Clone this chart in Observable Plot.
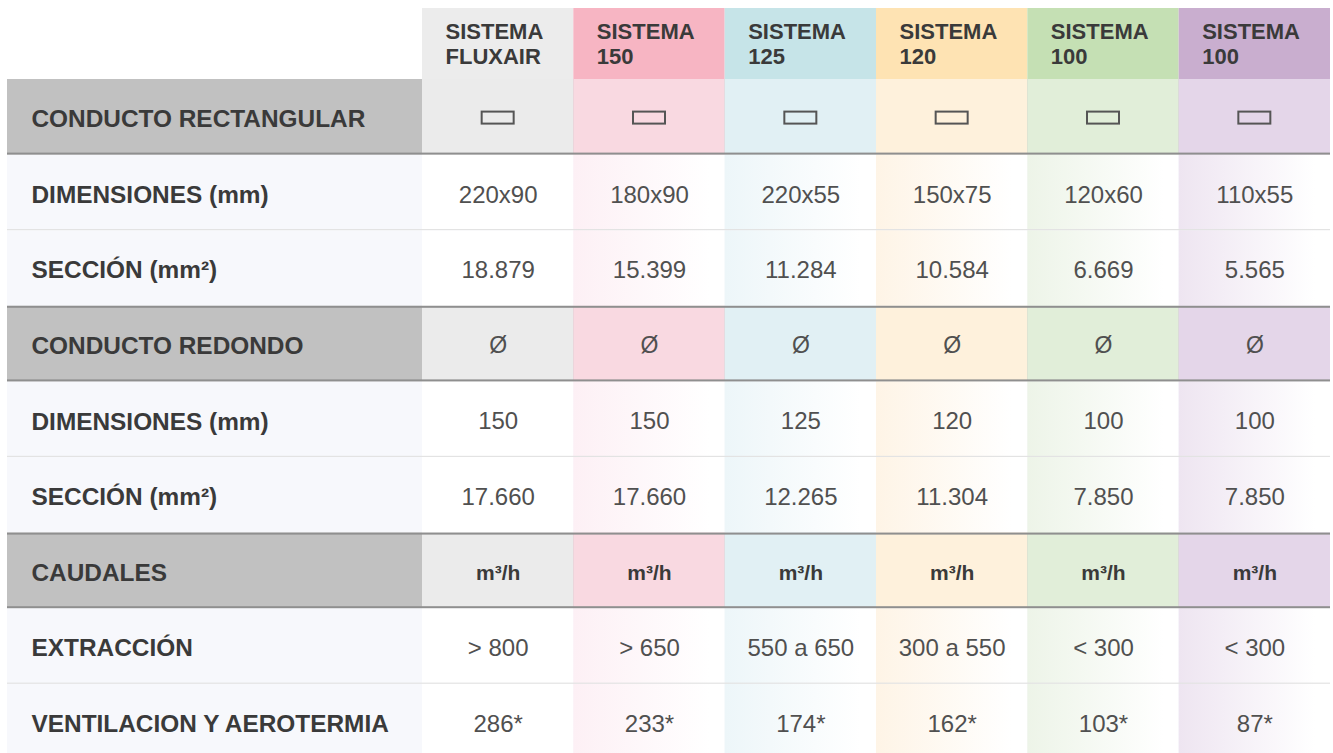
<!DOCTYPE html>
<html><head><meta charset="utf-8">
<script src="https://cdn.jsdelivr.net/npm/d3@7"></script>
<script src="https://cdn.jsdelivr.net/npm/@observablehq/plot@0.6"></script>
<style>html,body{margin:0;padding:0;background:#fff;overflow:hidden}</style>
</head><body><div id="chart"></div>
<script>
// ---- data ----
const columns = ["fluxair", "s150", "s125", "s120", "s100a", "s100b"];
const headerLabels = ["SISTEMA\nFLUXAIR", "SISTEMA\n150", "SISTEMA\n125", "SISTEMA\n120", "SISTEMA\n100", "SISTEMA\n100"];
const headerColors = ["#ececec", "#f7b5c3", "#c6e4e8", "#fee3b3", "#c5e0b4", "#c9aecf"];
const sectionColors = ["#ebebeb", "#f9d9e1", "#e1f0f4", "#fef1dc", "#e1eed9", "#e4d6e9"];
const dataTints = ["#ffffff", "#fdf0f5", "#edf6f9", "#fef4e6", "#edf4e8", "#eee5f1"];

const rows = ["header", "rectHead", "rectDim", "rectSec", "roundHead", "roundDim", "roundSec", "flowHead", "extr", "vent"];
const rowLabels = ["", "CONDUCTO RECTANGULAR", "DIMENSIONES (mm)", "SECCIÓN (mm²)", "CONDUCTO REDONDO", "DIMENSIONES (mm)", "SECCIÓN (mm²)", "CAUDALES", "EXTRACCIÓN", "VENTILACION Y AEROTERMIA"];
const sectionRows = ["rectHead", "roundHead", "flowHead"];
const dataRows = ["rectDim", "rectSec", "roundDim", "roundSec", "extr", "vent"];

const rectDim = ["220x90", "180x90", "220x55", "150x75", "120x60", "110x55"];
const rectSec = ["18.879", "15.399", "11.284", "10.584", "6.669", "5.565"];
const roundSymbol = ["Ø", "Ø", "Ø", "Ø", "Ø", "Ø"];
const roundDim = ["150", "150", "125", "120", "100", "100"];
const roundSec = ["17.660", "17.660", "12.265", "11.304", "7.850", "7.850"];
const flowUnits = ["m³/h", "m³/h", "m³/h", "m³/h", "m³/h", "m³/h"];
const extraction = ["> 800", "> 650", "550 a 650", "300 a 550", "< 300", "< 300"];
const ventilation = ["286*", "233*", "174*", "162*", "103*", "87*"];

const valueRows = {rectDim, rectSec, roundDim, roundSec, extr: extraction, vent: ventilation};

// ---- tables built from data ----
const bodyRows = rows.slice(1);
const labelTable = bodyRows.map(r => ({row: r, label: rowLabels[rows.indexOf(r)], section: sectionRows.includes(r)}));
const cellTable = [];
bodyRows.forEach(r => columns.forEach((c, i) => {
  const section = sectionRows.includes(r);
  cellTable.push({row: r, col: c, fill: section ? sectionColors[i] : (i === 0 ? "#ffffff" : `url(#grad${i})`)});
}));
const headerTable = columns.map((c, i) => ({col: c, label: headerLabels[i], fill: headerColors[i]}));
const valueTable = [];
Object.entries(valueRows).forEach(([r, vals]) => vals.forEach((v, i) => valueTable.push({row: r, col: columns[i], value: v})));
const roundTable = columns.map((c, i) => ({row: "roundHead", col: c, value: roundSymbol[i]}));
const flowTable = columns.map((c, i) => ({row: "flowHead", col: c, value: flowUnits[i]}));

const step = 75.6;
const colStep = (1330 - 422) / columns.length;

const chart = Plot.plot({
  width: 1333, height: 753,
  marginLeft: 7, marginRight: 3, marginTop: 0, marginBottom: 0,
  style: "font-family: 'Liberation Sans', Arial, sans-serif; background: #fff;",
  x: {type: "band", domain: columns, range: [422, 1330], padding: 0, round: false, axis: null},
  y: {type: "band", domain: rows, range: [3.4, 3.4 + step * rows.length], padding: 0, round: false, axis: null},
  color: {type: "identity"},
  marks: [
    // label column backgrounds
    Plot.cell(labelTable, {y: "row", fill: d => d.section ? "#c1c1c1" : "#f7f8fc"}),
    // header cells
    Plot.cell(headerTable, {x: "col", y: () => "header", fill: "fill", insetTop: 4.6}),
    // body cells
    Plot.cell(cellTable, {x: "col", y: "row", fill: "fill"}),
    // light separators
    Plot.cell(["rectDim", "roundDim", "extr"], {y: d => d, fill: "#e3e3e3", insetTop: step - 1.2}),
    // dark borders of section rows
    Plot.cell(sectionRows, {y: d => d, fill: "#8f8f8f", insetTop: step - 2}),
    Plot.cell(["roundHead", "flowHead"], {y: d => d, fill: "#8f8f8f", insetBottom: step - 2}),
    // row labels
    Plot.text(labelTable, {y: "row", text: "label", frameAnchor: "left", dx: 24, dy: 2, textAnchor: "start",
      fontSize: 24.4, fontWeight: "bold", fill: "#3a3a3a"}),
    // header labels
    Plot.text(headerTable, {x: "col", y: () => "header", text: "label", textAnchor: "start", dx: -colStep / 2 + 23, dy: 2,
      lineHeight: 1.136, fontSize: 22, fontWeight: "bold", fill: "#3a3a3a"}),
    // rectangle icons
    Plot.cell(columns, {x: d => d, y: () => "rectHead", fill: "none", stroke: "#555", strokeWidth: 2,
      insetLeft: (colStep - 32) / 2, insetRight: (colStep - 32) / 2, insetTop: (step - 12) / 2 + 0.8, insetBottom: (step - 12) / 2 - 0.8}),
    // round symbol
    Plot.text(roundTable, {x: "col", y: "row", text: "value", dy: 2, fontSize: 23, fill: "#505050"}),
    // flow units
    Plot.text(flowTable, {x: "col", y: "row", text: "value", dy: 2, fontSize: 21, fontWeight: "bold", fill: "#3a3a3a"}),
    // values
    Plot.text(valueTable, {x: "col", y: "row", text: "value", dy: 2, fontSize: 24, fill: "#505050"})
  ]
});

const defs = d3.select(chart).insert("defs", ":first-child");
dataTints.forEach((c, i) => {
  const g = defs.append("linearGradient").attr("id", `grad${i}`).attr("x1", 0).attr("x2", 1).attr("y1", 0).attr("y2", 0);
  g.append("stop").attr("offset", 0).attr("stop-color", c);
  g.append("stop").attr("offset", 0.9).attr("stop-color", "#ffffff");
});
document.getElementById("chart").appendChild(chart);
</script>
</body></html>
